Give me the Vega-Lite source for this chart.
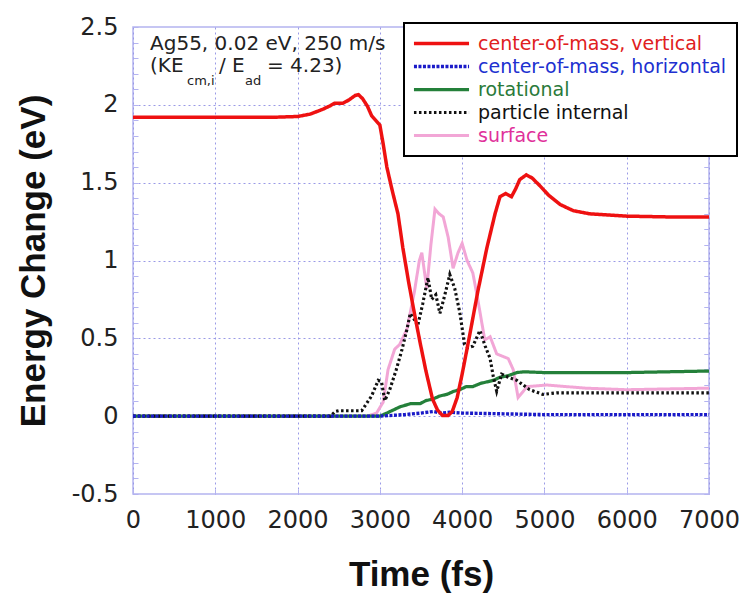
{
  "$schema": "https://vega.github.io/schema/vega-lite/v6.json",
  "width": 576,
  "height": 467,
  "autosize": {"type": "none"},
  "padding": {"left": 133, "top": 27, "right": 36, "bottom": 100},
  "background": "white",
  "config": {
    "view": {"stroke": "#b4b4f0", "strokeWidth": 1.5},
    "font": "DejaVu Sans"
  },
  "resolve": {"axis": {"y": "independent"}},
  "datasets": {
    "curves": [
      {"s": "surface", "t": 0, "e": 0}, {"s": "surface", "t": 2850, "e": 0}, {"s": "surface", "t": 2960, "e": 0.02}, {"s": "surface", "t": 3040, "e": 0.09}, {"s": "surface", "t": 3100, "e": 0.30}, {"s": "surface", "t": 3180, "e": 0.43}, {"s": "surface", "t": 3240, "e": 0.46}, {"s": "surface", "t": 3330, "e": 0.56}, {"s": "surface", "t": 3420, "e": 0.80}, {"s": "surface", "t": 3480, "e": 1.00}, {"s": "surface", "t": 3510, "e": 1.05}, {"s": "surface", "t": 3570, "e": 0.82}, {"s": "surface", "t": 3620, "e": 1.10}, {"s": "surface", "t": 3670, "e": 1.33}, {"s": "surface", "t": 3720, "e": 1.30}, {"s": "surface", "t": 3770, "e": 1.28}, {"s": "surface", "t": 3830, "e": 1.15}, {"s": "surface", "t": 3890, "e": 0.95}, {"s": "surface", "t": 3950, "e": 1.05}, {"s": "surface", "t": 4000, "e": 1.11}, {"s": "surface", "t": 4060, "e": 1.00}, {"s": "surface", "t": 4130, "e": 0.92}, {"s": "surface", "t": 4190, "e": 0.75}, {"s": "surface", "t": 4275, "e": 0.49}, {"s": "surface", "t": 4340, "e": 0.51}, {"s": "surface", "t": 4420, "e": 0.40}, {"s": "surface", "t": 4560, "e": 0.37}, {"s": "surface", "t": 4620, "e": 0.30}, {"s": "surface", "t": 4680, "e": 0.12}, {"s": "surface", "t": 4790, "e": 0.19}, {"s": "surface", "t": 5030, "e": 0.20}, {"s": "surface", "t": 5500, "e": 0.18}, {"s": "surface", "t": 6000, "e": 0.17}, {"s": "surface", "t": 7000, "e": 0.18},
      {"s": "rotational", "t": 0, "e": 0}, {"s": "rotational", "t": 3000, "e": 0}, {"s": "rotational", "t": 3085, "e": 0.02}, {"s": "rotational", "t": 3245, "e": 0.06}, {"s": "rotational", "t": 3370, "e": 0.08}, {"s": "rotational", "t": 3487, "e": 0.08}, {"s": "rotational", "t": 3560, "e": 0.10}, {"s": "rotational", "t": 3645, "e": 0.11}, {"s": "rotational", "t": 3730, "e": 0.13}, {"s": "rotational", "t": 3815, "e": 0.14}, {"s": "rotational", "t": 3900, "e": 0.16}, {"s": "rotational", "t": 3970, "e": 0.17}, {"s": "rotational", "t": 4050, "e": 0.19}, {"s": "rotational", "t": 4130, "e": 0.19}, {"s": "rotational", "t": 4220, "e": 0.21}, {"s": "rotational", "t": 4300, "e": 0.22}, {"s": "rotational", "t": 4380, "e": 0.23}, {"s": "rotational", "t": 4460, "e": 0.25}, {"s": "rotational", "t": 4560, "e": 0.26}, {"s": "rotational", "t": 4665, "e": 0.28}, {"s": "rotational", "t": 4750, "e": 0.285}, {"s": "rotational", "t": 5000, "e": 0.28}, {"s": "rotational", "t": 6000, "e": 0.28}, {"s": "rotational", "t": 7000, "e": 0.29},
      {"s": "particle internal", "t": 0, "e": 0}, {"s": "particle internal", "t": 2400, "e": 0}, {"s": "particle internal", "t": 2460, "e": 0.03}, {"s": "particle internal", "t": 2500, "e": 0.035}, {"s": "particle internal", "t": 2780, "e": 0.035}, {"s": "particle internal", "t": 2900, "e": 0.13}, {"s": "particle internal", "t": 2980, "e": 0.23}, {"s": "particle internal", "t": 3020, "e": 0.22}, {"s": "particle internal", "t": 3060, "e": 0.10}, {"s": "particle internal", "t": 3120, "e": 0.17}, {"s": "particle internal", "t": 3200, "e": 0.30}, {"s": "particle internal", "t": 3270, "e": 0.43}, {"s": "particle internal", "t": 3330, "e": 0.56}, {"s": "particle internal", "t": 3370, "e": 0.66}, {"s": "particle internal", "t": 3420, "e": 0.62}, {"s": "particle internal", "t": 3460, "e": 0.58}, {"s": "particle internal", "t": 3520, "e": 0.72}, {"s": "particle internal", "t": 3585, "e": 0.89}, {"s": "particle internal", "t": 3630, "e": 0.75}, {"s": "particle internal", "t": 3680, "e": 0.78}, {"s": "particle internal", "t": 3730, "e": 0.66}, {"s": "particle internal", "t": 3790, "e": 0.78}, {"s": "particle internal", "t": 3850, "e": 0.91}, {"s": "particle internal", "t": 3910, "e": 0.82}, {"s": "particle internal", "t": 3970, "e": 0.67}, {"s": "particle internal", "t": 4030, "e": 0.46}, {"s": "particle internal", "t": 4070, "e": 0.44}, {"s": "particle internal", "t": 4130, "e": 0.45}, {"s": "particle internal", "t": 4216, "e": 0.55}, {"s": "particle internal", "t": 4280, "e": 0.45}, {"s": "particle internal", "t": 4340, "e": 0.37}, {"s": "particle internal", "t": 4380, "e": 0.25}, {"s": "particle internal", "t": 4420, "e": 0.16}, {"s": "particle internal", "t": 4480, "e": 0.27}, {"s": "particle internal", "t": 4560, "e": 0.25}, {"s": "particle internal", "t": 4665, "e": 0.23}, {"s": "particle internal", "t": 4820, "e": 0.17}, {"s": "particle internal", "t": 4980, "e": 0.14}, {"s": "particle internal", "t": 5150, "e": 0.15}, {"s": "particle internal", "t": 6000, "e": 0.15}, {"s": "particle internal", "t": 7000, "e": 0.15},
      {"s": "center-of-mass, horizontal", "t": 0, "e": 0}, {"s": "center-of-mass, horizontal", "t": 3000, "e": 0}, {"s": "center-of-mass, horizontal", "t": 3300, "e": 0.01}, {"s": "center-of-mass, horizontal", "t": 3500, "e": 0.02}, {"s": "center-of-mass, horizontal", "t": 3650, "e": 0.03}, {"s": "center-of-mass, horizontal", "t": 3750, "e": 0.02}, {"s": "center-of-mass, horizontal", "t": 3850, "e": 0.025}, {"s": "center-of-mass, horizontal", "t": 4000, "e": 0.02}, {"s": "center-of-mass, horizontal", "t": 4500, "e": 0.015}, {"s": "center-of-mass, horizontal", "t": 5000, "e": 0.01}, {"s": "center-of-mass, horizontal", "t": 7000, "e": 0.01},
      {"s": "center-of-mass, vertical", "t": 0, "e": 1.92}, {"s": "center-of-mass, vertical", "t": 1700, "e": 1.92}, {"s": "center-of-mass, vertical", "t": 2000, "e": 1.925}, {"s": "center-of-mass, vertical", "t": 2150, "e": 1.94}, {"s": "center-of-mass, vertical", "t": 2300, "e": 1.97}, {"s": "center-of-mass, vertical", "t": 2400, "e": 1.995}, {"s": "center-of-mass, vertical", "t": 2450, "e": 2.01}, {"s": "center-of-mass, vertical", "t": 2550, "e": 2.01}, {"s": "center-of-mass, vertical", "t": 2620, "e": 2.03}, {"s": "center-of-mass, vertical", "t": 2700, "e": 2.06}, {"s": "center-of-mass, vertical", "t": 2740, "e": 2.065}, {"s": "center-of-mass, vertical", "t": 2790, "e": 2.04}, {"s": "center-of-mass, vertical", "t": 2850, "e": 1.99}, {"s": "center-of-mass, vertical", "t": 2900, "e": 1.93}, {"s": "center-of-mass, vertical", "t": 2950, "e": 1.90}, {"s": "center-of-mass, vertical", "t": 3000, "e": 1.87}, {"s": "center-of-mass, vertical", "t": 3040, "e": 1.75}, {"s": "center-of-mass, vertical", "t": 3085, "e": 1.60}, {"s": "center-of-mass, vertical", "t": 3150, "e": 1.45}, {"s": "center-of-mass, vertical", "t": 3220, "e": 1.30}, {"s": "center-of-mass, vertical", "t": 3280, "e": 1.08}, {"s": "center-of-mass, vertical", "t": 3350, "e": 0.86}, {"s": "center-of-mass, vertical", "t": 3420, "e": 0.66}, {"s": "center-of-mass, vertical", "t": 3490, "e": 0.47}, {"s": "center-of-mass, vertical", "t": 3560, "e": 0.29}, {"s": "center-of-mass, vertical", "t": 3640, "e": 0.11}, {"s": "center-of-mass, vertical", "t": 3700, "e": 0.04}, {"s": "center-of-mass, vertical", "t": 3760, "e": 0.005}, {"s": "center-of-mass, vertical", "t": 3830, "e": 0.005}, {"s": "center-of-mass, vertical", "t": 3880, "e": 0.03}, {"s": "center-of-mass, vertical", "t": 3940, "e": 0.12}, {"s": "center-of-mass, vertical", "t": 4000, "e": 0.27}, {"s": "center-of-mass, vertical", "t": 4095, "e": 0.53}, {"s": "center-of-mass, vertical", "t": 4190, "e": 0.80}, {"s": "center-of-mass, vertical", "t": 4300, "e": 1.08}, {"s": "center-of-mass, vertical", "t": 4400, "e": 1.30}, {"s": "center-of-mass, vertical", "t": 4460, "e": 1.41}, {"s": "center-of-mass, vertical", "t": 4530, "e": 1.43}, {"s": "center-of-mass, vertical", "t": 4600, "e": 1.41}, {"s": "center-of-mass, vertical", "t": 4650, "e": 1.46}, {"s": "center-of-mass, vertical", "t": 4700, "e": 1.52}, {"s": "center-of-mass, vertical", "t": 4780, "e": 1.55}, {"s": "center-of-mass, vertical", "t": 4850, "e": 1.53}, {"s": "center-of-mass, vertical", "t": 4945, "e": 1.48}, {"s": "center-of-mass, vertical", "t": 5050, "e": 1.42}, {"s": "center-of-mass, vertical", "t": 5190, "e": 1.36}, {"s": "center-of-mass, vertical", "t": 5350, "e": 1.32}, {"s": "center-of-mass, vertical", "t": 5550, "e": 1.30}, {"s": "center-of-mass, vertical", "t": 6000, "e": 1.285}, {"s": "center-of-mass, vertical", "t": 6500, "e": 1.28}, {"s": "center-of-mass, vertical", "t": 7000, "e": 1.28}
    ],
    "notes": [
      {"t": 207, "v": 2.39, "txt": "Ag55, 0.02 eV, 250 m/s"},
      {"t": 207, "v": 2.248, "txt": "(KE"},
      {"t": 1045, "v": 2.248, "txt": "/ E"},
      {"t": 1628, "v": 2.248, "txt": "= 4.23)"}
    ],
    "subs": [
      {"t": 656, "v": 2.152, "txt": "cm,i"},
      {"t": 1361, "v": 2.152, "txt": "ad"}
    ]
  },
  "layer": [
    {
      "data": {"name": "curves"},
      "mark": {"type": "line", "clip": true},
      "encoding": {
        "x": {
          "field": "t", "type": "quantitative",
          "scale": {"domain": [0, 7000], "nice": false, "zero": false},
          "axis": {
            "values": [0, 1000, 2000, 3000, 4000, 5000, 6000, 7000],
            "format": "d",
            "labelFont": "DejaVu Sans", "labelFontSize": 24, "labelColor": "#222",
            "labelPadding": 19, "labelFlush": false, "labelOverlap": false,
            "tickSize": -5, "tickColor": "#b4b4f0",
            "domain": false,
            "grid": true, "gridColor": "#9a9ae6", "gridDash": [2, 3], "gridWidth": 1,
            "title": "Time (fs)", "titleFont": "Liberation Sans", "titleFontSize": 35,
            "titleFontWeight": "bold", "titleColor": "#111", "titlePadding": 25
          }
        },
        "y": {
          "field": "e", "type": "quantitative",
          "scale": {"domain": [-0.5, 2.5], "nice": false, "zero": false},
          "axis": {
            "orient": "left",
            "values": [-0.5, -0.4, -0.3, -0.2, -0.1, 0, 0.1, 0.2, 0.3, 0.4, 0.5, 0.6, 0.7, 0.8, 0.9, 1, 1.1, 1.2, 1.3, 1.4, 1.5, 1.6, 1.7, 1.8, 1.9, 2, 2.1, 2.2, 2.3, 2.4, 2.5],
            "labelExpr": "abs(datum.value*2 - round(datum.value*2)) < 0.001 ? '' + round(datum.value*10)/10 : ''",
            "labelFont": "DejaVu Sans", "labelFontSize": 24, "labelColor": "#222",
            "labelPadding": 20, "labelOverlap": false, "labelFlush": false,
            "tickSize": -5, "tickColor": "#b4b4f0",
            "domain": false,
            "grid": true, "gridColor": "#9a9ae6", "gridDash": [2, 3], "gridWidth": 1,
            "gridOpacity": {"condition": {"test": "abs(datum.value*2 - round(datum.value*2)) < 0.001 && datum.value > -0.4 && datum.value < 2.4", "value": 1}, "value": 0},
            "title": "Energy Change (eV)", "titleFont": "Liberation Sans", "titleFontSize": 35,
            "titleFontWeight": "bold", "titleColor": "#111", "titlePadding": 20
          }
        },
        "color": {
          "field": "s", "type": "nominal",
          "scale": {
            "domain": ["center-of-mass, vertical", "center-of-mass, horizontal", "rotational", "particle internal", "surface"],
            "range": ["#ee1111", "#1a1ac8", "#24803a", "#111111", "#f2a6d6"]
          },
          "legend": {
            "title": null,
            "orient": "none", "legendX": 271, "legendY": -4,
            "padding": 10,
            "fillColor": "white", "strokeColor": "#000000",
            "symbolType": "M-3.18,0H3.18", "symbolSize": 300, "symbolOffset": 17,
            "symbolFillColor": "transparent",
            "labelFont": "DejaVu Sans", "labelFontSize": 19, "labelOffset": 26, "labelLimit": 400,
            "rowPadding": 2,
            "encode": {
              "legend": {"update": {"strokeWidth": {"value": 2}}},
              "labels": {"update": {"fill": {"signal": "datum.value === 'surface' ? '#e0309a' : datum.value === 'center-of-mass, vertical' ? '#e02020' : datum.value === 'center-of-mass, horizontal' ? '#2030d0' : datum.value === 'rotational' ? '#2a7a3a' : '#111111'"}}}
            }
          }
        },
        "strokeDash": {
          "field": "s", "type": "nominal",
          "scale": {
            "domain": ["center-of-mass, vertical", "center-of-mass, horizontal", "rotational", "particle internal", "surface"],
            "range": [[1, 0], [3, 1.5], [1, 0], [2.5, 2.5], [1, 0]]
          },
          "legend": {"title": null}
        },
        "strokeWidth": {
          "field": "s", "type": "nominal",
          "scale": {
            "domain": ["center-of-mass, vertical", "center-of-mass, horizontal", "rotational", "particle internal", "surface"],
            "range": [3.5, 3, 1.6, 1.6, 1]
          },
          "legend": {"title": null}
        }
      }
    },
    {
      "data": {"name": "notes"},
      "mark": {"type": "text", "align": "left", "baseline": "middle", "font": "DejaVu Sans", "fontSize": 20, "color": "#222"},
      "encoding": {
        "x": {"field": "t", "type": "quantitative"},
        "y": {
          "field": "v", "type": "quantitative",
          "axis": {
            "orient": "right",
            "values": [-0.5, -0.4, -0.3, -0.2, -0.1, 0, 0.1, 0.2, 0.3, 0.4, 0.5, 0.6, 0.7, 0.8, 0.9, 1, 1.1, 1.2, 1.3, 1.4, 1.5, 1.6, 1.7, 1.8, 1.9, 2, 2.1, 2.2, 2.3, 2.4, 2.5],
            "labels": false, "tickSize": -5, "tickColor": "#b4b4f0",
            "domain": false, "grid": false, "title": null
          }
        },
        "text": {"field": "txt"}
      }
    },
    {
      "data": {"name": "subs"},
      "mark": {"type": "text", "align": "left", "baseline": "middle", "font": "DejaVu Sans", "fontSize": 13, "color": "#222"},
      "encoding": {
        "x": {"field": "t", "type": "quantitative"},
        "y": {
          "field": "v", "type": "quantitative",
          "axis": {
            "orient": "right",
            "values": [-0.5, -0.4, -0.3, -0.2, -0.1, 0, 0.1, 0.2, 0.3, 0.4, 0.5, 0.6, 0.7, 0.8, 0.9, 1, 1.1, 1.2, 1.3, 1.4, 1.5, 1.6, 1.7, 1.8, 1.9, 2, 2.1, 2.2, 2.3, 2.4, 2.5],
            "labels": false, "tickSize": -5, "tickColor": "#b4b4f0",
            "domain": false, "grid": false, "title": null
          }
        },
        "text": {"field": "txt"}
      }
    }
  ]
}
